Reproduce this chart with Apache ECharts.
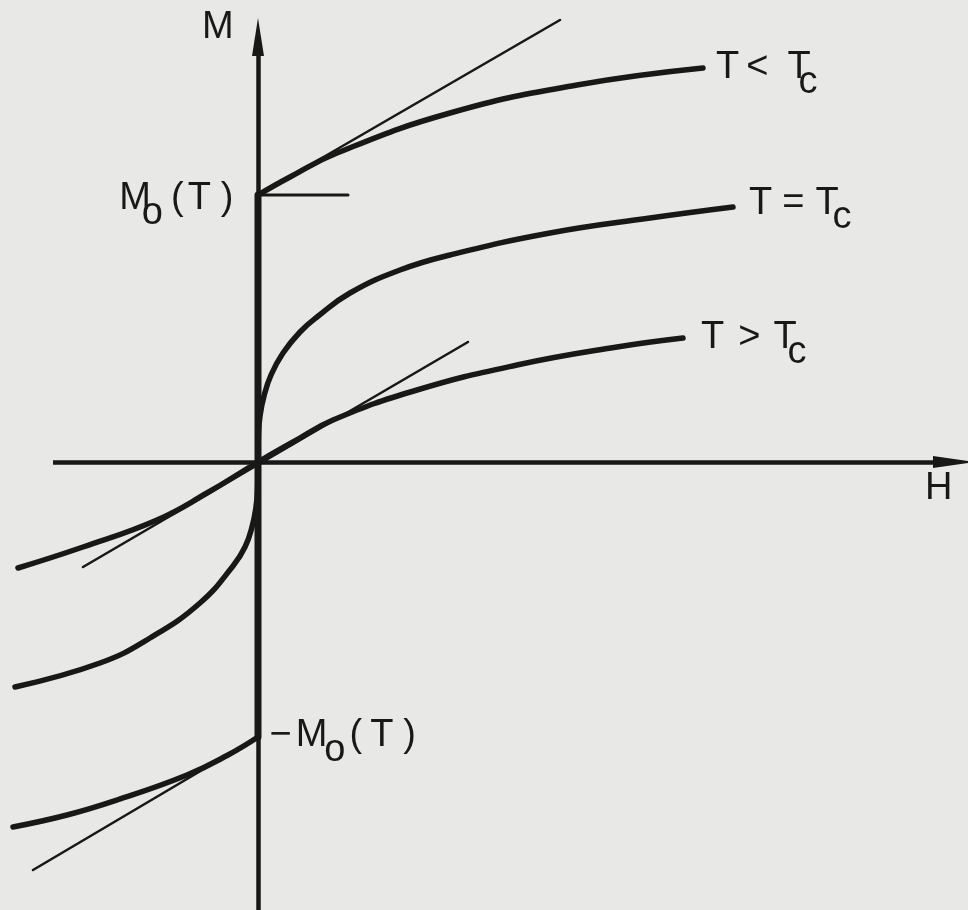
<!DOCTYPE html>
<html>
<head>
<meta charset="utf-8">
<script src="https://cdn.jsdelivr.net/npm/echarts@6/dist/echarts.min.js"></script>
<style>
  html, body { margin: 0; padding: 0; background: #e8e8e6; }
  #chart { width: 968px; height: 910px; }
</style>
</head>
<body>
<div id="chart"></div>
<script>
// Magnetization M against field H for three temperatures (arbitrary units).

// T < Tc: two branches starting from the spontaneous moments ±M0(T)
const belowUpper = [[0, 2.67], [0.32, 2.85], [0.79, 3.09], [1.92, 3.49], [3.19, 3.77], [4.45, 3.94]];
const belowLower = [[-2.45, -3.65], [-1.91, -3.53], [-1.41, -3.38], [-0.71, -3.13], [-0.30, -2.93], [0, -2.75]];

// T = Tc: critical isotherm with a vertical tangent at the origin
const critical = [
  [-2.43, -2.25], [-1.58, -2.01], [-1.08, -1.76], [-0.58, -1.41], [-0.25, -1.04],
  [-0.13, -0.85], [-0.06, -0.65], [-0.02, -0.45], [-0.005, -0.28], [0, 0],
  [0.005, 0.29], [0.02, 0.46], [0.06, 0.66], [0.13, 0.87], [0.25, 1.09],
  [0.42, 1.30], [0.59, 1.45], [0.92, 1.69], [1.42, 1.92], [1.92, 2.07],
  [2.92, 2.29], [3.92, 2.44], [4.75, 2.55]
];

// T > Tc: paramagnetic isotherm through the origin
const above = [
  [-2.40, -1.06], [-1.75, -0.85], [-1.01, -0.58], [-0.51, -0.31], [0, 0],
  [0.35, 0.20], [0.75, 0.42], [1.59, 0.72], [2.59, 0.97], [3.59, 1.15], [4.25, 1.24]
];

// Initial-slope tangents
const tangentBelowUpper = [[0, 2.67], [3.02, 4.42]];
const tangentBelowLower = [[-2.25, -4.08], [0, -2.75]];
const tangentAbove = [[-1.75, -1.05], [2.10, 1.20]];

// Spontaneous magnetization marker and the jump between -M0 and +M0 at H = 0
const spontaneousMark = [[0, 2.67], [0.90, 2.67]];
const zeroFieldJump = [[0, -2.75], [0, 2.67]];

// Drawn extent of the H and M axes (arrow heads sit at the upper ends)
const hAxisSpan = [-2.05, 6.96];
const mAxisSpan = [-4.48, 4.25];

// Text
const axisTitles = { y: 'M', x: 'H' };

const INK = '#181818';
const FONT = '"Liberation Sans", Arial, sans-serif';
const FS = 38;

function tok(extra) {
  return Object.assign({ fontFamily: FONT, fontSize: FS, color: INK }, extra || {});
}

function curve(name, data, width, extra) {
  return Object.assign({
    name: name,
    type: 'line',
    data: data,
    symbol: 'none',
    clip: false,
    silent: true,
    animation: false,
    lineStyle: { color: INK, width: width, cap: 'round', join: 'round' }
  }, extra || {});
}

function endLabel(formatter, rich, distance, offset) {
  return {
    show: true,
    distance: distance,
    offset: offset || [0, 0],
    formatter: formatter,
    fontFamily: FONT,
    fontSize: FS,
    color: INK,
    rich: rich
  };
}

const smooth = { smooth: 0.45 };

const option = {
  backgroundColor: '#e8e8e6',
  animation: false,
  grid: { left: 0, right: 0, top: 0, bottom: 0, containLabel: false },
  xAxis: { type: 'value', min: -2.58, max: 7.10, show: false },
  yAxis: { type: 'value', min: -4.48, max: 4.62, show: false },
  series: [
    {
      name: 'axes', type: 'line', data: [], silent: true, animation: false,
      markLine: {
        silent: true, animation: false,
        symbol: ['none', 'triangle'],
        label: { show: false },
        emphasis: { disabled: true },
        lineStyle: { color: INK, width: 4.5, type: 'solid' },
        data: [
          [{ coord: [hAxisSpan[0], 0], symbolSize: [12, 42] }, { coord: [hAxisSpan[1], 0], symbolSize: [12, 42] }],
          [{ coord: [0, mAxisSpan[0]], symbolSize: [12, 38] }, { coord: [0, mAxisSpan[1]], symbolSize: [12, 38] }]
        ]
      }
    },
    curve('zeroFieldJump', zeroFieldJump, 7),
    curve('spontaneousMark', spontaneousMark, 3),
    curve('tangentBelowUpper', tangentBelowUpper, 2.6),
    curve('tangentBelowLower', tangentBelowLower, 2.6),
    curve('tangentAbove', tangentAbove, 2.6),
    curve('belowUpper', belowUpper, 5.5, Object.assign({
      endLabel: endLabel('{m|T}{g|<}{m|T}{s|c}', {
        m: tok(), g: tok({ padding: [0, 19, 0, 7] }), s: tok({ padding: [30, 0, 0, -12] })
      }, 13)
    }, smooth)),
    curve('belowLower', belowLower, 5.5, smooth),
    curve('critical', critical, 5.5, Object.assign({
      endLabel: endLabel('{m|T}{g|=}{m|T}{s|c}', {
        m: tok(), g: tok({ padding: [0, 11, 0, 10] }), s: tok({ padding: [28, 0, 0, -6] })
      }, 16, [0, -3])
    }, smooth)),
    curve('above', above, 5.5, Object.assign({
      endLabel: endLabel('{m|T}{g|>}{m|T}{s|c}', {
        m: tok(), g: tok({ padding: [0, 13, 0, 14] }), s: tok({ padding: [30, 0, 0, -9] })
      }, 18)
    }, smooth)),
    {
      // Labels for +M0(T) and -M0(T) on the M axis
      name: 'moments', type: 'scatter', silent: true, animation: false,
      symbolSize: 1, itemStyle: { color: 'transparent', opacity: 1 },
      data: [
        {
          value: spontaneousMark[0],
          label: {
            show: true, position: 'left', distance: 24, offset: [0, 4], color: INK, fontFamily: FONT, fontSize: FS, opacity: 1,
            formatter: '{m|M}{o|o}{m|(}{t|T}{m|)}',
            rich: {
              m: tok(), o: tok({ padding: [30, 8, 0, -9] }), t: tok({ padding: [0, 10, 0, 4] })
            }
          }
        },
        {
          value: zeroFieldJump[0],
          label: {
            show: true, position: 'right', distance: 11, offset: [0, -1], color: INK, fontFamily: FONT, fontSize: FS, opacity: 1,
            formatter: '{m|\u2212}{n|M}{o|o}{m|(}{t|T}{m|)}',
            rich: {
              m: tok(), n: tok({ padding: [0, 0, 0, 4] }), o: tok({ padding: [30, 4, 0, -3] }),
              t: tok({ padding: [0, 10, 0, 8] })
            }
          }
        }
      ]
    }
  ]
};

const chart = echarts.init(document.getElementById('chart'), null, { renderer: 'canvas' });
chart.setOption(option);

// Axis titles, placed in data space next to the axis ends
const at = p => chart.convertToPixel({ gridIndex: 0 }, p);
const yTitle = at([-0.56, 4.34]);
const xTitle = at([6.67, -0.27]);
chart.setOption({
  graphic: [
    { type: 'text', x: yTitle[0], y: yTitle[1], silent: true,
      style: { text: axisTitles.y, font: FS + 'px ' + FONT, fill: INK, textAlign: 'left', textVerticalAlign: 'middle' } },
    { type: 'text', x: xTitle[0], y: xTitle[1], silent: true,
      style: { text: axisTitles.x, font: FS + 'px ' + FONT, fill: INK, textAlign: 'left', textVerticalAlign: 'middle' } }
  ]
});
</script>
</body>
</html>
